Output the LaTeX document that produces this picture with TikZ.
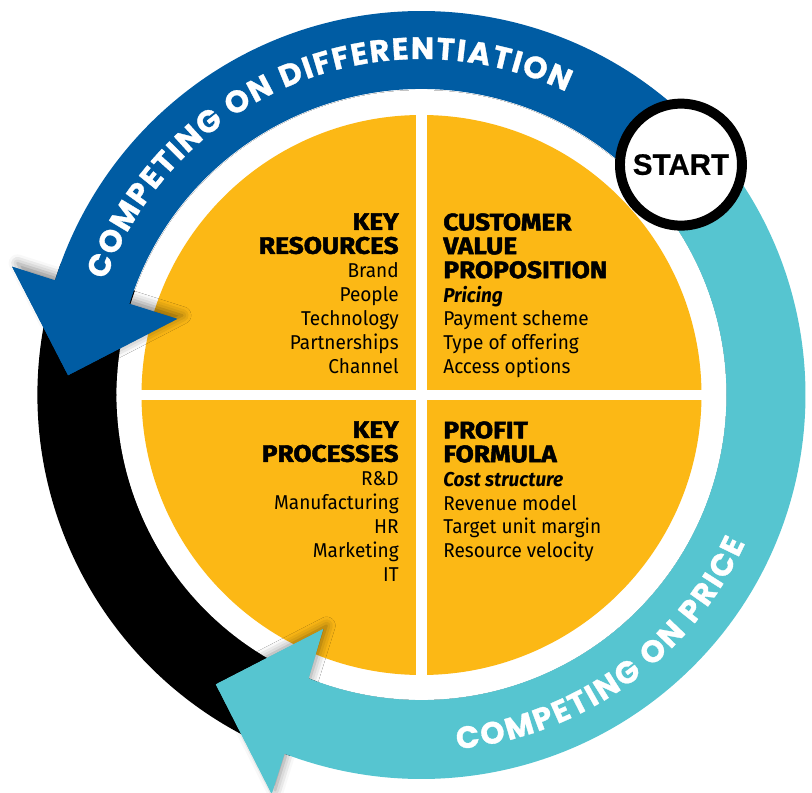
\documentclass[tikz,border=0pt]{standalone}
\usepackage{fontspec}
\setmainfont{Fira Sans}
\newfontfamily\listfont[FakeStretch=0.95]{Fira Sans}
\newfontfamily\headfont[FakeStretch=1.1,FakeBold=2]{Fira Sans}
\newfontfamily\arcfont[FakeBold=1]{Poppins}
\newfontfamily\startfont[FakeBold=0.6]{Liberation Sans}
\usepackage{tikz}
\usetikzlibrary{decorations.text,shadows.blur}
\definecolor{diffblue}{RGB}{0,92,163}
\definecolor{priceblue}{RGB}{86,197,208}
\definecolor{bmyellow}{RGB}{252,184,21}
\pgfdeclareradialshading{ringshade}{\pgfpoint{0bp}{0bp}}{color(0bp)=(white); color(47bp)=(white); color(50bp)=(black!28)}
\newcommand{\qtitle}[1]{{\headfont\bfseries\fontsize{13.6}{13.6}\selectfont #1}}

\begin{document}
\begin{tikzpicture}[line cap=round,line join=round,x=0.02cm,y=0.02cm,
  quadtext/.style={inner sep=0pt, font=\listfont\fontsize{11.4}{13.6}\selectfont},
  arctext/.style={decorate, decoration={text along path, text color=white,
    text align={fit to path}, text={|\arcfont\bfseries\fontsize{17.5}{17.5}\selectfont|#1}}},
  headshadow/.style={blur shadow={shadow xshift=#1, shadow yshift=2pt,
    shadow blur radius=5pt, shadow opacity=45}},
  startcircle/.style={circle, draw=black, line width=5.67pt, fill=white, inner sep=0pt,
    minimum size=2.44cm, font=\startfont\bfseries\fontsize{16.8}{16.8}\selectfont}]
\useasboundingbox (-421.5,-397) rectangle (390.5,395);
\fill[shading=ringshade] (0,0) circle (305);
\fill[bmyellow] (0,0) circle (280);
\fill[white] (-5.5,-282) rectangle (5.5,282);
\fill[white] (-282,-5) rectangle (282,5);
\fill[black] (160:384) arc (160:250:384) -- (250:305) arc (250:160:305) -- cycle;
\fill[priceblue, headshadow=2pt] (-110.6:426) -- (-125.4:355) -- (-112.8:254) -- cycle;
\fill[priceblue] (41.6:384) arc (41.6:-110.9:384) -- (-110.6:426) -- (-125.4:355)
  -- (-112.8:254) -- (-111.7:305) arc (-111.7:41.6:305) -- cycle;
\fill[diffblue, headshadow=3pt] (162.6:429) -- (176.8:354) -- (162.7:256) -- cycle;
\fill[diffblue] (41.6:384) arc (41.6:162.7:384) -- (162.6:429) -- (176.8:354)
  -- (162.7:256) -- (162.7:306) arc (162.7:41.6:306) -- cycle;
\path[arctext={COMPETING ON DIFFERENTIATION}] (160:336) arc (160:64.5:336);
\path[arctext={COMPETING ON PRICE}] (-84.2:356) arc (-84.2:-24.6:356);
\node[startcircle] (start) at (41.6:347) {START};
\node[quadtext, align=right, anchor=north east] (resources) at (-22.5,182)
  {\qtitle{KEY}\\\qtitle{RESOURCES}\\Brand\\People\\Technology\\Partnerships\\Channel};
\node[quadtext, align=left, anchor=north west] (value) at (21.5,182)
  {\qtitle{CUSTOMER}\\\qtitle{VALUE}\\\qtitle{PROPOSITION}\\{\bfseries\itshape Pricing}\\Payment scheme\\Type of offering\\Access options};
\node[quadtext, align=right, anchor=north east] (processes) at (-22.5,-26)
  {\qtitle{KEY}\\\qtitle{PROCESSES}\\R\&D\\Manufacturing\\HR\\Marketing\\IT};
\node[quadtext, align=left, anchor=north west] (profit) at (21.5,-26)
  {\qtitle{PROFIT}\\\qtitle{FORMULA}\\{\bfseries\itshape Cost structure}\\Revenue model\\Target unit margin\\Resource velocity};
\end{tikzpicture}
\end{document}
